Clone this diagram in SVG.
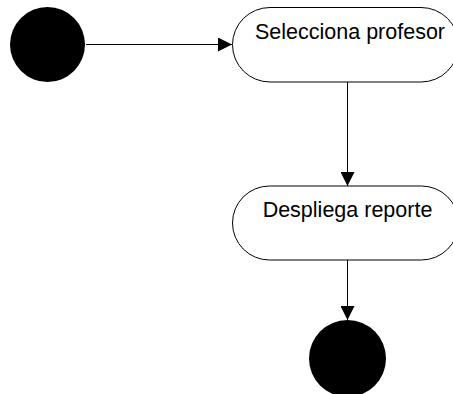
<svg xmlns="http://www.w3.org/2000/svg" width="453" height="394" viewBox="0 0 453 394">
<style>
.state{fill:#fff;stroke:#000;stroke-width:1}
.dot{fill:#000}
.lbl{font-family:"Liberation Sans",Arial,sans-serif;font-size:21.5px;fill:#000;text-anchor:middle}
.edge{stroke:#000;stroke-width:1;fill:none}
</style>
<defs>
<marker id="ah" markerWidth="14" markerHeight="14" refX="14" refY="7" orient="auto" markerUnits="userSpaceOnUse">
<path d="M0,0 L14,7 L0,14 Z" fill="#000"/>
</marker>
</defs>
<g id="connectors">
<line class="edge" x1="86" y1="44.5" x2="232" y2="44.5" marker-end="url(#ah)"/>
<line class="edge" x1="347.5" y1="82" x2="347.5" y2="186" marker-end="url(#ah)"/>
<line class="edge" x1="347.5" y1="260" x2="347.5" y2="320" marker-end="url(#ah)"/>
</g>
<g id="start">
<circle class="dot" cx="47.5" cy="44.5" r="37.5"/>
</g>
<g id="selecciona">
<rect class="state" x="232.5" y="7.5" width="226" height="74.5" rx="37.5" ry="37.5"/>
<text class="lbl" x="350" y="38.5">Selecciona profesor</text>
</g>
<g id="despliega">
<rect class="state" x="232.5" y="186" width="226" height="74" rx="37" ry="37"/>
<text class="lbl" x="347.5" y="216.7">Despliega reporte</text>
</g>
<g id="end">
<circle class="dot" cx="347.5" cy="358.5" r="38.5"/>
</g>
</svg>
